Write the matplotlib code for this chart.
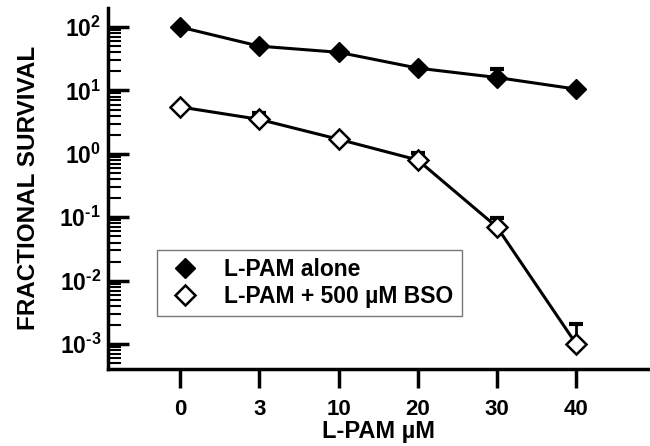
import numpy as np
import matplotlib
matplotlib.use("Agg")
import matplotlib.pyplot as plt
from matplotlib.lines import Line2D
from matplotlib.ticker import LogLocator, FuncFormatter, NullFormatter

plt.rcParams['font.family'] = ['Liberation Sans', 'DejaVu Sans']
plt.rcParams['font.weight'] = 'bold'
plt.rcParams['mathtext.fontset'] = 'custom'
plt.rcParams['mathtext.rm'] = 'Liberation Sans:bold'
plt.rcParams['mathtext.bf'] = 'Liberation Sans:bold'

doses = ['0', '3', '10', '20', '30', '40']
lpam_alone = [100, 50, 40, 22.5, 16, 10.5]
lpam_alone_upper = [100, 50, 40, 22.5, 22, 10.5]
lpam_bso = [5.5, 3.5, 1.7, 0.8, 0.07, 0.001]
lpam_bso_upper = [5.5, 4.4, 1.7, 1.03, 0.098, 0.0021]

x = np.arange(len(doses))


def decade_label(v, pos):
    # short hyphen in the exponent, like the original figure
    return r'$\mathbf{10}^{\text{%d}}$' % round(np.log10(v))


fig = plt.figure(figsize=(6.5, 4.46), dpi=100)
ax = fig.add_axes([0.166, 0.173, 0.834, 0.809])

for vals, upper in [(lpam_alone, lpam_alone_upper), (lpam_bso, lpam_bso_upper)]:
    vals = np.array(vals)
    err = np.array(upper) - vals
    ax.errorbar(x, vals, yerr=[np.zeros_like(err), err], fmt='none',
                ecolor='black', elinewidth=2, capsize=5, capthick=3, zorder=2)

ax.plot(x, lpam_alone, color='black', lw=2.2, marker='D', markersize=10,
        markerfacecolor='black', markeredgecolor='black', zorder=3)
ax.plot(x, lpam_bso, color='black', lw=2.2, marker='D', markersize=10,
        markerfacecolor='white', markeredgecolor='black', markeredgewidth=1.8, zorder=3)

ax.set_yscale('log')
ax.set_ylim(10 ** -3.39, 10 ** 2.3)
ax.set_xlim(-0.91, 5.93)

ax.yaxis.set_major_locator(LogLocator(base=10, numticks=10))
ax.yaxis.set_minor_locator(LogLocator(base=10, subs=np.arange(2, 10), numticks=20))
ax.yaxis.set_major_formatter(FuncFormatter(decade_label))
ax.yaxis.set_minor_formatter(NullFormatter())
ax.tick_params(axis='y', which='major', direction='in', length=15, width=2.5, labelsize=16.5, pad=5)
ax.tick_params(axis='y', which='minor', direction='in', length=9, width=1.5)

ax.set_xticks(x)
ax.set_xticklabels(doses)
ax.tick_params(axis='x', direction='out', length=14, width=2.5, labelsize=16, pad=8)

for side in ['top', 'right']:
    ax.spines[side].set_visible(False)
for side in ['left', 'bottom']:
    ax.spines[side].set_linewidth(2.5)

ax.set_xlabel('L-PAM µM', fontsize=17, fontweight='bold', labelpad=0)
ax.set_ylabel('FRACTIONAL SURVIVAL', fontsize=17.5, fontweight='bold', labelpad=14)

handles = [
    Line2D([], [], linestyle='none', marker='D', markersize=10, markerfacecolor='black', markeredgecolor='black'),
    Line2D([], [], linestyle='none', marker='D', markersize=10, markerfacecolor='white', markeredgecolor='black', markeredgewidth=1.8),
]
leg = ax.legend(handles, ['L-PAM alone', 'L-PAM + 500 µM BSO'], loc='upper left',
                bbox_to_anchor=(0.09, 0.33), borderaxespad=0, fancybox=False,
                edgecolor='#555555', handletextpad=0.8, borderpad=0.35, handlelength=1.8,
                labelspacing=0.2, prop={'weight': 'bold', 'size': 16.5})
leg.get_frame().set_linewidth(1.0)

fig.savefig('out.png', dpi=100)
